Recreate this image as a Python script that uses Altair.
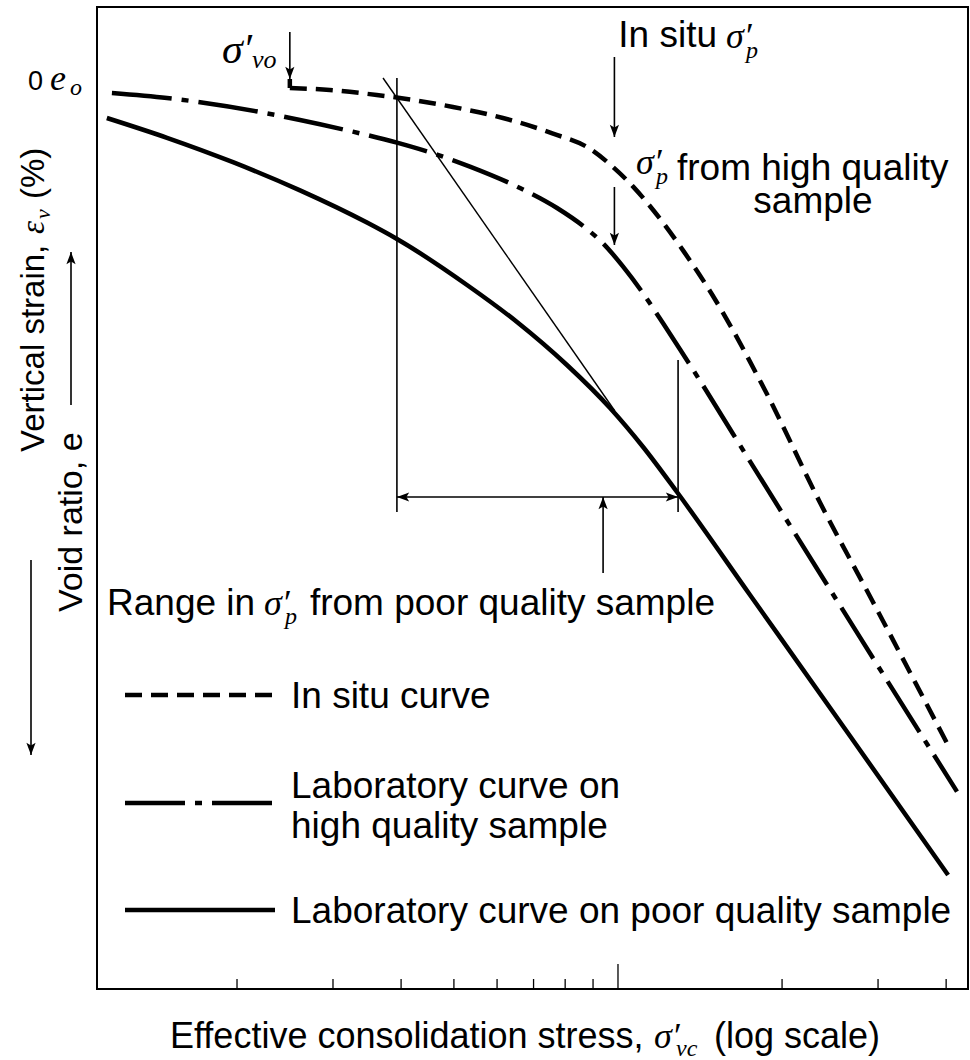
import altair as alt
import pandas as pd

# page layout: plot frame origin and size in pixels
X0, Y0 = 97, 7
W, H = 871, 982

STRESS_DOMAIN = [1.107, 43.87]     # log axis, one decade = 545 px
STRAIN_DOMAIN = [-4.05, 45.05]     # vertical strain grows downwards

# in situ curve (dashed)
insitu_stress = [2.5, 2.96, 3.61, 3.98, 4.98, 6.15, 7.6, 8.86, 9.79, 10.65, 11.6,
                 13.2, 14.9, 18.6, 23.5, 29.3, 40.3]
insitu_strain = [0.0, 0.1, 0.35, 0.5, 0.95, 1.5, 2.28, 3.02, 3.95, 4.92, 6.1,
                 8.17, 10.35, 15.1, 20.75, 25.65, 32.85]

# laboratory curve on high quality sample (dash-dot)
hq_stress = [1.179, 1.488, 2.203, 2.61, 3.223, 3.931, 4.655, 5.35, 6.61, 7.73, 8.77,
             9.39, 10.21, 11.12, 12.09, 13.0, 18.22, 27.8, 41.88]
hq_strain = [0.25, 0.5, 1.2, 1.6, 2.15, 2.73, 3.33, 3.93, 5.0, 6.0, 7.05,
             7.77, 8.92, 10.27, 11.75, 13.07, 19.47, 27.47, 35.18]

# laboratory curve on poor quality sample (solid)
pq_stress = [1.154, 1.488, 1.966, 2.61, 3.463, 3.931, 5.285, 6.527, 8.06, 9.67,
             11.12, 12.83, 17.47, 26.65, 40.33]
pq_strain = [1.5, 2.49, 3.71, 5.12, 6.73, 7.55, 9.85, 11.7, 13.85, 16.0,
             17.95, 20.2, 25.35, 32.4, 39.35]

# construction lines
tangent_stress = [3.706, 9.87]
tangent_strain = [-0.5, 16.15]
range_lo, range_hi = 3.93, 12.89          # range in sigma'p (poor sample)
range_level = 20.45
sigma_vo = 2.5
sigma_p = 9.85
pointer_stress = 9.39

# axis ticks
minor_ticks = [2, 3, 4, 5, 6, 7, 8, 9, 20, 30, 40]
major_ticks = [10]

SANS = "Liberation Sans, Arial, Helvetica, sans-serif"
SERIF = "Liberation Serif, Times New Roman, serif"
ARROW = "M0,0 L0.75,2 L0,1.55 L-0.75,2 Z"   # barbed head, tip at origin, pointing up
FS = 37

xs = alt.Scale(type="log", domain=STRESS_DOMAIN, nice=False)
ys = alt.Scale(domain=STRAIN_DOMAIN, reverse=True, nice=False, zero=False)
X = lambda f: alt.X(f, type="quantitative", scale=xs, axis=None)
Y = lambda f: alt.Y(f, type="quantitative", scale=ys, axis=None)

ONE = pd.DataFrame({"k": [0]})


def curve(xv, yv, width, dash=None):
    df = pd.DataFrame({"stress": xv, "strain": yv, "i": range(len(xv))})
    kw = dict(color="black", strokeWidth=width, interpolate="monotone", clip=True)
    if dash:
        kw["strokeDash"] = dash
    return alt.Chart(df).mark_line(**kw).encode(
        x=X("stress"), y=Y("strain"), order="i:Q")


def segment(x1, y1, x2, y2, width=1.6):
    df = pd.DataFrame({"a": [x1], "b": [y1], "c": [x2], "d": [y2]})
    return alt.Chart(df).mark_rule(color="black", strokeWidth=width).encode(
        x=X("a"), y=Y("b"), x2="c", y2="d")


def heads(rows):
    df = pd.DataFrame(rows, columns=["stress", "strain", "ang"])
    return alt.Chart(df).mark_point(shape=ARROW, filled=True, color="black",
                                    opacity=1, size=150).encode(
        x=X("stress"), y=Y("strain"), angle=alt.Angle("ang:Q", scale=None))


def txt(s, px, py, size=FS, font=SANS, style="normal", align="left", angle=0):
    return alt.Chart(ONE).mark_text(
        text=s, font=font, fontSize=size, fontStyle=style, align=align,
        baseline="alphabetic", angle=angle, color="black").encode(
        x=alt.value(px - X0), y=alt.value(py - Y0))


def prule(px1, py1, px2, py2, width=1.6, dash=None):
    kw = dict(color="black", strokeWidth=width)
    if dash:
        kw["strokeDash"] = dash
    return alt.Chart(ONE).mark_rule(**kw).encode(
        x=alt.value(px1 - X0), y=alt.value(py1 - Y0),
        x2=alt.value(px2 - X0), y2=alt.value(py2 - Y0))


def phead(px, py, ang):
    return alt.Chart(ONE).mark_point(shape=ARROW, filled=True, color="black",
                                     opacity=1, size=150, angle=ang).encode(
        x=alt.value(px - X0), y=alt.value(py - Y0))


layers = []

# curves
layers.append(curve(insitu_stress, insitu_strain, 4.5, [17, 9]))
layers.append(segment(sigma_vo, -0.45, sigma_vo, 0.0, 4.5))
layers.append(curve(hq_stress, hq_strain, 4.5, [60, 10, 7, 10]))
layers.append(curve(pq_stress, pq_strain, 4.5))

# construction lines and arrows
layers.append(segment(tangent_stress[0], tangent_strain[0], tangent_stress[1], tangent_strain[1], 1.4))
layers.append(segment(range_lo, -0.5, range_lo, 21.2))
layers.append(segment(range_hi, 13.6, range_hi, 21.2))
layers.append(segment(range_lo, range_level, range_hi, range_level))
layers.append(segment(pointer_stress, 24.25, pointer_stress, range_level))
layers.append(segment(sigma_vo, -2.8, sigma_vo, -0.45))
layers.append(segment(sigma_p, -1.55, sigma_p, 2.45))
layers.append(segment(sigma_p, 4.95, sigma_p, 7.85))
layers.append(heads([
    [sigma_vo, -0.45, 180],
    [sigma_p, 2.45, 180],
    [sigma_p, 7.85, 180],
    [range_lo, range_level, 270],
    [range_hi, range_level, 90],
    [pointer_stress, range_level, 0],
]))

# ticks along the bottom, pointing into the frame
tick_df = pd.DataFrame({"v": minor_ticks})
layers.append(alt.Chart(tick_df).mark_rule(color="black", strokeWidth=1.3).encode(
    x=X("v"), y=alt.value(H), y2=alt.value(H - 10)))
layers.append(alt.Chart(pd.DataFrame({"v": major_ticks})).mark_rule(
    color="black", strokeWidth=1.3).encode(x=X("v"), y=alt.value(H), y2=alt.value(H - 25)))

# annotations
layers += [
    txt("σ′", 222, 63, 42, SERIF, "italic"),
    txt("vo", 252, 68, 26, SERIF, "italic"),
    txt("In situ", 717, 47, align="right"),
    txt("σ′", 726, 48, 36, SERIF, "italic"),
    txt("p", 746, 58, 24, SERIF, "italic"),
    txt("σ′", 636, 174, 36, SERIF, "italic"),
    txt("p", 656, 184, 24, SERIF, "italic"),
    txt("from high quality", 677, 180),
    txt("sample", 813, 213, align="center"),
    txt("Range in", 107, 615),
    txt("σ′", 264, 615, 36, SERIF, "italic"),
    txt("p", 285, 624, 24, SERIF, "italic"),
    txt("from poor quality sample", 715, 615, align="right"),
    txt("0", 28, 90, 27),
    txt("e", 50, 90, 36, SERIF, "italic"),
    txt("o", 70, 95, 24, SERIF, "italic"),
]

# legend
layers += [
    prule(125, 695, 275, 695, 4.5, [17, 9]),
    prule(125, 803, 275, 803, 4.5, [60, 10, 7, 10]),
    prule(125, 910, 275, 910, 4.5),
    txt("In situ curve", 291, 708),
    txt("Laboratory curve on", 291, 798),
    txt("high quality sample", 291, 838),
    txt("Laboratory curve on poor quality sample", 291, 923),
]

# x axis title
layers += [
    txt("Effective consolidation stress,", 170, 1048, 36),
    txt("σ′", 654, 1048, 36, SERIF, "italic"),
    txt("vc", 676, 1056, 24, SERIF, "italic"),
    txt("(log scale)", 880, 1048, 36, align="right"),
]

# y axis titles (rotated) with direction arrows
layers += [
    txt("Vertical strain,", 44, 452, 33, angle=270),
    txt("ε", 44, 234, 33, SERIF, "italic", angle=270),
    txt("v", 50, 219, 22, SERIF, "italic", angle=270),
    txt("(%)", 44, 199, 33, angle=270),
    prule(31, 560, 31, 755),
    phead(31, 755, 180),
    txt("Void ratio, e", 82, 612, 34, angle=270),
    prule(71, 405, 71, 252),
    phead(71, 252, 0),
]

chart = alt.layer(*layers).properties(
    width=W, height=H,
    padding={"left": X0, "top": Y0, "right": 970 - X0 - W, "bottom": 1060 - Y0 - H},
    autosize=alt.AutoSizeParams(type="none"),
    background="white",
).configure_view(stroke="black", strokeWidth=2)

chart.save("out.html", embed_options={"renderer": "svg", "actions": False})
